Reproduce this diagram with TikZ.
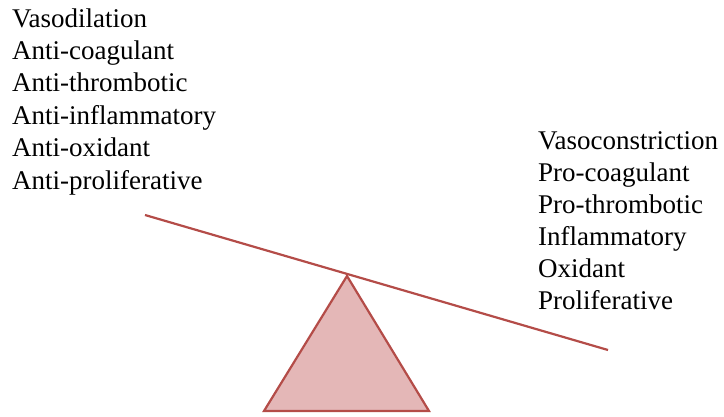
\documentclass[tikz,border=0pt]{standalone}
\usepackage{fontspec}
\setmainfont{Liberation Serif}
\definecolor{beamred}{RGB}{180,76,72}
\definecolor{fulcrumfill}{RGB}{228,183,183}
\begin{document}
\begin{tikzpicture}[x=1pt,y=-1pt,
  lbl/.style={anchor=base west,inner sep=0pt,font=\fontsize{27}{32}\selectfont},
  beam/.style={draw=beamred,line width=2.2pt},
  fulcrum/.style={draw=beamred,fill=fulcrumfill,line width=2.2pt,line join=miter}]
\useasboundingbox (0,0) rectangle (724,416);
\foreach \t [count=\i] in {Vasodilation,Anti-coagulant,Anti-thrombotic,Anti-inflammatory,Anti-oxidant,Anti-proliferative}
  \node[lbl] (L\i) at (12,{27+(\i-1)*32.4}) {\t};
\foreach \t [count=\i] in {Vasoconstriction,Pro-coagulant,Pro-thrombotic,Inflammatory,Oxidant,Proliferative}
  \node[lbl] (R\i) at (538,{149+(\i-1)*32}) {\t};
\coordinate (apex) at (347,276);
\coordinate (bl) at (264,411);
\coordinate (br) at (429,411);
\coordinate (beamL) at (145,215);
\coordinate (beamR) at (608,350);
\draw[fulcrum] (apex) -- (br) -- (bl) -- cycle;
\draw[beam] (beamL) -- (beamR);
\end{tikzpicture}
\end{document}
